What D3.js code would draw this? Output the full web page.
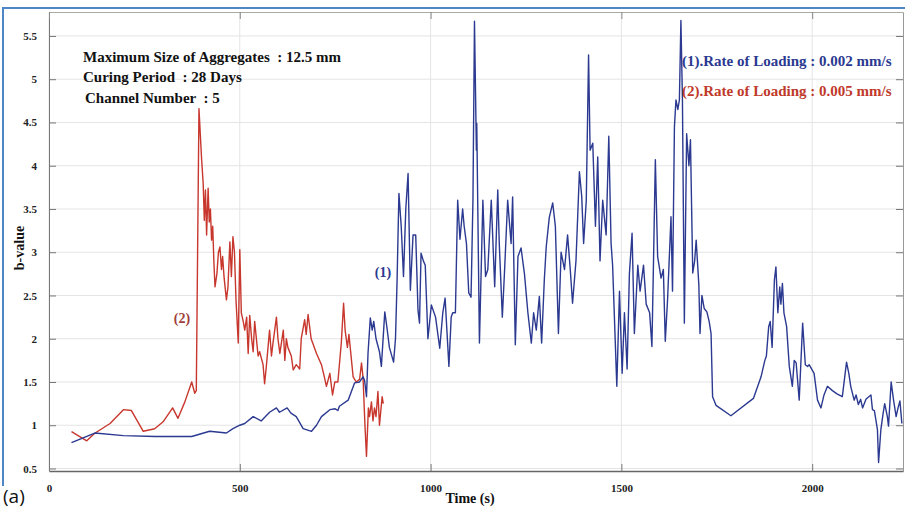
<!DOCTYPE html>
<html>
<head>
<meta charset="utf-8">
<script src="https://cdn.jsdelivr.net/npm/d3@7"></script>
<style>
  html, body { margin: 0; padding: 0; background: #fff; }
  svg { display: block; }
  text { white-space: pre; }
</style>
</head>
<body>
<svg id="chart" width="905" height="510"></svg>
<script>
// ---------- data ----------
const xTicks = [0, 500, 1000, 1500, 2000];
const yTicks = [0.5, 1, 1.5, 2, 2.5, 3, 3.5, 4, 4.5, 5, 5.5];
const yTickLabels = ["0.5", "1", "1.5", "2", "2.5", "3", "3.5", "4", "4.5", "5", "5.5"];
const infoLines = [
  "Maximum Size of Aggregates  : 12.5 mm",
  "Curing Period  : 28 Days",
  "Channel Number  : 5"
];
const legendLabels = [
  "(1).Rate of Loading : 0.002 mm/s",
  "(2).Rate of Loading : 0.005 mm/s"
];
// series (1): rate 0.002 mm/s  [time (s), b-value]
const series1 = [
  [59,0.80],[120,0.91],[195,0.88],[279,0.87],[374,0.87],[421,0.93],[465,0.91],[482,0.96],
  [500,1.0],[513,1.02],[535,1.1],[556,1.05],[578,1.15],[596,1.2],[604,1.15],[624,1.2],
  [634,1.14],[648,1.1],[666,0.96],[688,0.93],[701,1.0],[714,1.1],[736,1.18],[750,1.19],
  [757,1.17],[761,1.22],[784,1.29],[801,1.49],[814,1.5],[823,1.56],[827,1.52],[832,1.33],
  [836,1.83],[842,2.24],[847,2.1],[851,2.2],[857,2.0],[866,1.85],[871,1.68],[880,2.31],
  [885,2.15],[892,1.9],[903,1.73],[908,2.0],[912,2.64],[917,3.68],[923,3.3],[929,2.72],
  [935,3.5],[941,3.91],[947,2.56],[954,3.2],[961,3.2],[967,2.33],[971,2.18],[975,2.99],
  [981,2.9],[986,2.85],[993,2.0],[1002,2.39],[1013,2.25],[1024,1.89],[1032,2.3],[1038,2.47],
  [1048,1.68],[1054,2.25],[1058,2.3],[1065,2.3],[1071,3.6],[1077,3.15],[1084,3.5],[1088,3.3],
  [1094,3.1],[1100,2.53],[1106,2.48],[1111,3.6],[1115,5.67],[1120,4.18],[1121,4.49],[1128,1.95],
  [1137,3.6],[1144,2.72],[1150,2.8],[1159,3.6],[1168,2.6],[1176,3.72],[1180,3.1],[1188,2.25],
  [1194,2.8],[1202,3.6],[1211,3.1],[1215,3.64],[1222,1.93],[1229,2.95],[1237,3.05],[1246,2.75],
  [1255,2.3],[1264,1.95],[1270,2.3],[1277,2.1],[1285,2.49],[1291,1.95],[1298,2.68],[1303,3.06],
  [1311,3.4],[1320,3.57],[1327,3.3],[1335,2.06],[1342,3.0],[1351,2.8],[1359,3.2],[1366,2.8],
  [1372,2.41],[1381,2.9],[1390,3.93],[1396,3.65],[1401,3.1],[1408,3.6],[1414,5.28],[1418,4.18],
  [1425,4.26],[1432,3.3],[1438,4.1],[1444,2.9],[1451,3.6],[1460,3.2],[1467,4.34],[1473,3.1],
  [1477,2.85],[1488,1.45],[1495,2.55],[1502,1.6],[1508,2.3],[1515,1.65],[1521,2.75],[1528,3.22],
  [1534,2.06],[1543,2.85],[1549,2.55],[1558,2.85],[1565,2.4],[1574,2.3],[1580,1.91],[1584,2.85],
  [1589,4.07],[1595,2.95],[1604,2.7],[1610,2.8],[1615,1.97],[1621,2.45],[1630,3.41],[1634,2.55],
  [1639,4.45],[1643,4.76],[1648,4.65],[1652,4.76],[1656,5.68],[1660,4.76],[1665,2.18],[1671,4.37],
  [1677,4.0],[1681,4.3],[1687,2.76],[1692,2.9],[1696,3.14],[1703,2.62],[1706,2.06],[1711,2.5],
  [1717,2.35],[1724,2.31],[1730,2.2],[1735,2.06],[1739,1.33],[1748,1.23],[1787,1.11],[1846,1.31],
  [1866,1.56],[1876,1.75],[1880,1.8],[1886,2.14],[1890,2.2],[1895,1.9],[1901,2.68],[1905,2.83],
  [1910,2.3],[1915,2.6],[1918,2.4],[1922,2.64],[1926,2.3],[1933,2.14],[1940,1.68],[1948,1.45],
  [1953,1.75],[1958,1.72],[1966,1.29],[1975,2.18],[1982,1.7],[1988,1.68],[1992,1.7],[2005,1.6],
  [2014,1.29],[2023,1.2],[2031,1.35],[2040,1.45],[2053,1.4],[2066,1.36],[2079,1.33],[2090,1.73],
  [2096,1.6],[2101,1.45],[2110,1.29],[2115,1.35],[2121,1.24],[2127,1.3],[2132,1.2],[2141,1.3],
  [2146,1.32],[2154,1.35],[2158,1.18],[2163,1.17],[2171,0.95],[2174,0.57],[2180,0.95],[2186,1.14],
  [2190,1.25],[2197,1.1],[2200,0.99],[2207,1.5],[2213,1.3],[2220,1.1],[2225,1.2],[2230,1.28],
  [2235,1.02]
];
// series (2): rate 0.005 mm/s  [time (s), b-value]
const series2 = [
  [59,0.925],[99,0.82],[120,0.907],[160,1.02],[195,1.18],[216,1.17],[247,0.93],[277,0.96],
  [299,1.04],[324,1.2],[338,1.08],[356,1.27],[374,1.5],[382,1.37],[386,1.4],[393,4.66],
  [400,4.07],[404,3.8],[407,3.37],[410,3.72],[413,3.2],[417,3.74],[420,3.35],[423,3.5],
  [426,3.14],[429,3.3],[432,2.9],[435,2.6],[440,2.75],[444,3.0],[448,3.06],[452,2.8],
  [455,2.95],[459,2.7],[465,2.45],[469,2.6],[474,3.12],[478,2.72],[482,3.18],[486,3.0],
  [490,2.45],[496,1.95],[500,3.03],[504,2.3],[509,2.2],[513,2.1],[518,2.25],[522,1.83],
  [526,2.27],[531,2.0],[535,1.85],[539,2.2],[548,1.8],[552,1.85],[561,1.7],[565,1.48],
  [570,1.7],[578,2.1],[583,1.8],[587,1.95],[596,2.25],[600,2.0],[605,1.83],[614,2.1],
  [618,1.75],[622,2.0],[626,1.9],[635,1.8],[640,1.64],[648,1.7],[657,1.65],[661,2.0],
  [670,2.22],[674,2.05],[679,2.28],[687,2.0],[701,1.83],[714,1.7],[722,1.55],[727,1.45],
  [736,1.6],[743,1.35],[749,1.5],[757,1.5],[766,1.95],[772,2.41],[776,2.1],[782,1.9],
  [786,2.05],[797,1.56],[805,1.5],[814,1.53],[819,1.72],[823,1.55],[828,1.0],[832,0.64],
  [837,1.2],[840,1.1],[845,1.27],[849,1.05],[853,1.2],[857,1.1],[862,1.39],[866,1.0],
  [873,1.33],[876,1.25]
];

// ---------- layout ----------
const W = 905, H = 510;
const plot = { left: 49, right: 903, top: 12, bottom: 471 };
const blue = "#2b3990", red = "#c8372d";
const serif = "'Liberation Serif','Times New Roman',serif";

const svg = d3.select("#chart");
const x = d3.scaleLinear().domain([0, 2238]).range([plot.left, plot.right]);
const y = d3.scaleLinear().domain([0.471, 5.777]).range([plot.bottom, plot.top]);

// outer blue frame
svg.append("line").attr("x1", 3).attr("x2", W).attr("y1", 8).attr("y2", 8)
  .attr("stroke", "#4f86c6").attr("stroke-width", 2);
svg.append("line").attr("x1", 3).attr("x2", 3).attr("y1", 7).attr("y2", 486)
  .attr("stroke", "#4f86c6").attr("stroke-width", 2);

// grid
const g = svg.append("g");
g.selectAll(".gy").data(yTicks).join("line")
  .attr("x1", plot.left).attr("x2", plot.right)
  .attr("y1", d => y(d)).attr("y2", d => y(d))
  .attr("stroke", "#e4e4e4").attr("stroke-width", 1);
g.selectAll(".gx").data(xTicks).join("line")
  .attr("x1", d => x(d)).attr("x2", d => x(d))
  .attr("y1", plot.top).attr("y2", plot.bottom)
  .attr("stroke", "#e4e4e4").attr("stroke-width", 1);

// axes (inward ticks, MATLAB style)
const tickFont = (sel) => sel.selectAll("text")
  .attr("font-family", serif).attr("font-weight", "bold")
  .attr("font-size", 11).attr("fill", "#222");

const yAxisL = d3.axisLeft(y).tickValues(yTicks)
  .tickFormat((d, i) => yTickLabels[i]).tickSizeInner(-7).tickSizeOuter(0).tickPadding(12);
svg.append("g").attr("transform", `translate(${plot.left},0)`).call(yAxisL)
  .call(s => s.select(".domain").attr("stroke", "#777"))
  .call(s => s.selectAll("line").attr("stroke", "#777"))
  .call(tickFont);

const yAxisR = d3.axisRight(y).tickValues(yTicks).tickFormat("").tickSizeInner(-7).tickSizeOuter(0);
svg.append("g").attr("transform", `translate(${plot.right},0)`).call(yAxisR)
  .call(s => s.select(".domain").attr("stroke", "#999"))
  .call(s => s.selectAll("line").attr("stroke", "#777"));

const xAxisB = d3.axisBottom(x).tickValues(xTicks).tickFormat(d3.format("d"))
  .tickSizeInner(-7).tickSizeOuter(0).tickPadding(13);
svg.append("g").attr("transform", `translate(0,${plot.bottom})`).call(xAxisB)
  .call(s => s.select(".domain").attr("stroke", "#666").attr("stroke-width", 1.5))
  .call(s => s.selectAll("line").attr("stroke", "#777"))
  .call(tickFont);

const xAxisT = d3.axisTop(x).tickValues(xTicks).tickFormat("").tickSizeInner(-7).tickSizeOuter(0);
svg.append("g").attr("transform", `translate(0,${plot.top})`).call(xAxisT)
  .call(s => s.select(".domain").attr("stroke", "#aaa"))
  .call(s => s.selectAll("line").attr("stroke", "#888"));

// lines
const line = d3.line().x(d => x(d[0])).y(d => y(d[1]));
svg.append("path").datum(series2).attr("d", line)
  .attr("fill", "none").attr("stroke", red).attr("stroke-width", 1.4)
  .attr("stroke-linejoin", "round");
svg.append("path").datum(series1).attr("d", line)
  .attr("fill", "none").attr("stroke", blue).attr("stroke-width", 1.4)
  .attr("stroke-linejoin", "round");

// axis titles
svg.append("text").attr("x", 470).attr("y", 503).attr("text-anchor", "middle")
  .attr("font-family", serif).attr("font-weight", "bold").attr("font-size", 14)
  .attr("fill", "#111").text("Time (s)");
svg.append("text").attr("transform", "translate(24,248) rotate(-90)").attr("text-anchor", "middle")
  .attr("font-family", serif).attr("font-weight", "bold").attr("font-size", 14)
  .attr("fill", "#111").text("b-value");

// info text
const infoY = [62, 82, 103];
const infoX = [83, 83, 85];
svg.selectAll(".info").data(infoLines).join("text")
  .attr("x", (d, i) => infoX[i]).attr("y", (d, i) => infoY[i])
  .attr("font-family", serif).attr("font-weight", "bold").attr("font-size", 15)
  .attr("fill", "#111").text(d => d);

// legend text
const legY = [66, 96];
const legCol = [blue, "#c0392b"];
svg.selectAll(".leg").data(legendLabels).join("text")
  .attr("x", 682).attr("y", (d, i) => legY[i])
  .attr("font-family", serif).attr("font-weight", "bold").attr("font-size", 15)
  .attr("fill", (d, i) => legCol[i]).text(d => d);

// series annotations
svg.append("text").attr("x", 383).attr("y", 277).attr("text-anchor", "middle")
  .attr("font-family", serif).attr("font-weight", "bold").attr("font-size", 14)
  .attr("fill", blue).text("(1)");
svg.append("text").attr("x", 182).attr("y", 323).attr("text-anchor", "middle")
  .attr("font-family", serif).attr("font-weight", "bold").attr("font-size", 14)
  .attr("fill", "#a0403a").text("(2)");

// panel label
svg.append("text").attr("x", 3).attr("y", 503)
  .attr("font-family", "'Open Sans','Liberation Sans',sans-serif").attr("font-size", 19)
  .attr("fill", "#111").text("(a)");
</script>
</body>
</html>
